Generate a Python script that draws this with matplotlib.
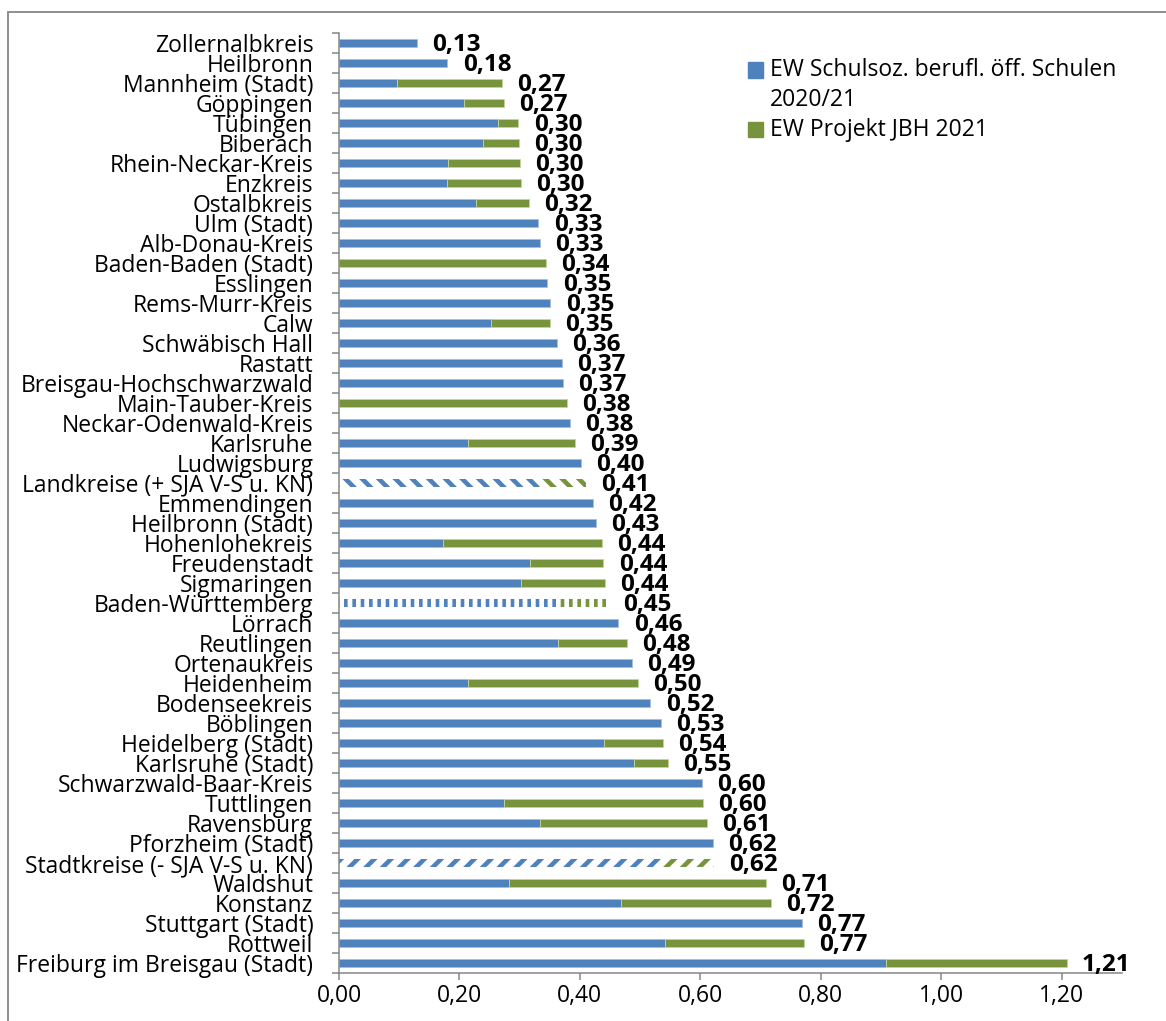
import numpy as np
import matplotlib
matplotlib.use("Agg")
import matplotlib.pyplot as plt
from matplotlib.patches import Rectangle

plt.rcParams['font.family'] = ['Open Sans', 'DejaVu Sans']
plt.rcParams['hatch.linewidth'] = 3.3

# data, top to bottom as in the chart
categories = [
    "Zollernalbkreis", "Heilbronn", "Mannheim (Stadt)", "Göppingen", "Tübingen",
    "Biberach", "Rhein-Neckar-Kreis", "Enzkreis", "Ostalbkreis", "Ulm (Stadt)",
    "Alb-Donau-Kreis", "Baden-Baden (Stadt)", "Esslingen", "Rems-Murr-Kreis", "Calw",
    "Schwäbisch Hall", "Rastatt", "Breisgau-Hochschwarzwald", "Main-Tauber-Kreis",
    "Neckar-Odenwald-Kreis", "Karlsruhe", "Ludwigsburg", "Landkreise (+ SJA V-S u. KN)",
    "Emmendingen", "Heilbronn (Stadt)", "Hohenlohekreis", "Freudenstadt", "Sigmaringen",
    "Baden-Württemberg", "Lörrach", "Reutlingen", "Ortenaukreis", "Heidenheim",
    "Bodenseekreis", "Böblingen", "Heidelberg (Stadt)", "Karlsruhe (Stadt)",
    "Schwarzwald-Baar-Kreis", "Tuttlingen", "Ravensburg", "Pforzheim (Stadt)",
    "Stadtkreise (- SJA V-S u. KN)", "Waldshut", "Konstanz", "Stuttgart (Stadt)",
    "Rottweil", "Freiburg im Breisgau (Stadt)",
]
schulsoz = [
    0.130, 0.180, 0.097, 0.208, 0.264, 0.239, 0.181, 0.180, 0.228, 0.331,
    0.333, 0.000, 0.346, 0.351, 0.252, 0.362, 0.370, 0.372, 0.000, 0.384,
    0.214, 0.402, 0.330, 0.422, 0.427, 0.173, 0.317, 0.302, 0.367, 0.464,
    0.364, 0.487, 0.214, 0.517, 0.534, 0.440, 0.490, 0.603, 0.274, 0.333,
    0.621, 0.536, 0.282, 0.468, 0.769, 0.541, 0.909,
]
jbh = [
    0.000, 0.000, 0.173, 0.066, 0.034, 0.060, 0.119, 0.122, 0.088, 0.000,
    0.000, 0.344, 0.000, 0.000, 0.098, 0.000, 0.000, 0.000, 0.378, 0.000,
    0.178, 0.000, 0.080, 0.000, 0.000, 0.264, 0.122, 0.140, 0.080, 0.000,
    0.114, 0.000, 0.283, 0.000, 0.000, 0.098, 0.056, 0.000, 0.330, 0.278,
    0.000, 0.086, 0.427, 0.249, 0.000, 0.231, 0.299,
]
# summary rows drawn with a pattern
patterns = {"Landkreise (+ SJA V-S u. KN)": "\\\\",
            "Baden-Württemberg": "||",
            "Stadtkreise (- SJA V-S u. KN)": "//"}
series_names = ["EW Schulsoz. berufl. öff. Schulen\n2020/21", "EW Projekt JBH 2021"]

BLUE = "#4F81BD"
GREEN = "#77933C"
GREY = "#868686"
FS = 16.5

W, H = 1166, 1021
fig = plt.figure(figsize=(W / 100, H / 100), dpi=100)
ax = fig.add_axes([339 / W, 48 / H, (1122 - 339) / W, (973 - 32.7) / H])

n = len(categories)
y = np.arange(n)
blue = np.array(schulsoz)
green = np.array(jbh)

bars_b = ax.barh(y, blue, height=0.4, color=BLUE, edgecolor="#A7BFDE", linewidth=0.6)
bars_g = ax.barh(y, green, left=blue, height=0.4, color=GREEN, edgecolor="#C3D69B", linewidth=0.6)

for bars, col, vals in [(bars_b, BLUE, blue), (bars_g, GREEN, green)]:
    for i, p in enumerate(bars):
        if vals[i] == 0:
            p.set_linewidth(0)
        pat = patterns.get(categories[i])
        if pat:
            p.set_facecolor("white")
            p.set_edgecolor(col)
            p.set_linewidth(0)
            p.set_hatch(pat)
            if pat == "||" and hasattr(p, "set_hatch_linewidth"):
                p.set_hatch_linewidth(2.6)

totals = blue + green
for i, t in enumerate(totals):
    ax.annotate(f"{t:.2f}".replace(".", ","), xy=(t, i), xytext=(11, -1.5),
                textcoords="offset points", ha="left", va="center",
                fontsize=17.5, fontweight="bold", color="black")

ax.set_ylim(n - 0.5, -0.5)
ax.set_xlim(0, 1.3)
ax.set_xticks(np.arange(0, 1.21, 0.2))
ax.set_xticklabels([f"{v:.2f}".replace(".", ",") for v in np.arange(0, 1.21, 0.2)])
ax.set_yticks(y)
ax.set_yticklabels(categories)
ax.set_yticks(np.arange(-0.5, n, 1), minor=True)
ax.tick_params(axis="y", which="major", length=0, pad=18.5, labelsize=FS)
ax.tick_params(axis="y", which="minor", length=5, width=1.1, color=GREY, direction="out")
ax.tick_params(axis="x", length=5, width=1.1, color=GREY, direction="out", pad=3, labelsize=FS)

for s in ["top", "right"]:
    ax.spines[s].set_visible(False)
for s in ["left", "bottom"]:
    ax.spines[s].set_color(GREY)
    ax.spines[s].set_linewidth(1.1)

# legend drawn by hand so the square sits next to the first line
def fx(px):
    return px / W

def fy(py):
    return 1 - py / H

for col, yc in [(BLUE, 70), (GREEN, 130)]:
    fig.patches.append(Rectangle((fx(748), fy(yc + 7.5)), 15 / W, 15 / H,
                                 transform=fig.transFigure, color=col))
fig.text(fx(770), fy(70), series_names[0].split("\n")[0], fontsize=FS, va="center")
fig.text(fx(770), fy(100), series_names[0].split("\n")[1], fontsize=FS, va="center")
fig.text(fx(770), fy(130), series_names[1], fontsize=FS, va="center")

# outer chart border (cut off at right and bottom)
fig.patches.append(Rectangle((fx(8), -0.1), 1.2, fy(12) + 0.1, transform=fig.transFigure,
                             fill=False, edgecolor=GREY, linewidth=1.3))

fig.savefig("out.png", dpi=100)
